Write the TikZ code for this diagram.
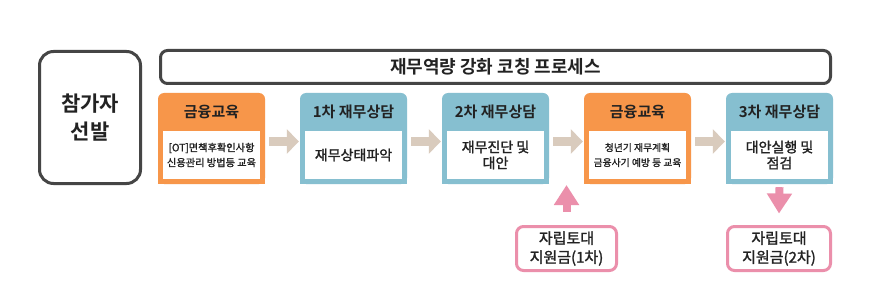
\documentclass[tikz,border=0pt]{standalone}
\usepackage{fontspec}
\setmainfont{Noto Sans CJK KR}[BoldFont={Noto Sans CJK KR Bold}]
\newfontfamily\medfont{Noto Sans CJK KR}[BoldFont={Noto Sans CJK KR},BoldFeatures={FakeBold=1.6}]
\usetikzlibrary{arrows.meta}
\definecolor{orng}{HTML}{F7964A}
\definecolor{blu}{HTML}{86BFD0}
\definecolor{tanc}{HTML}{D9CBBD}
\definecolor{pnk}{HTML}{EB8FAB}
\definecolor{dark}{HTML}{454545}
\definecolor{txt}{HTML}{222222}
\newcommand\procbox[6]{%
  \node[outerbox, fill=#3] (#1) at (#2,138.5) {};
  \fill[#3] (#1.west) rectangle (#1.south east);
  \node[header] (#1h) at (#2,112) {#4};
  \node[whitebox, font=#6] (#1b) at (#2,155) {#5};
}
\begin{document}
\begin{tikzpicture}[x=1pt,y=-1pt,
  outerbox/.style={rounded corners=6pt, minimum width=107pt, minimum height=91pt, inner sep=0pt},
  whitebox/.style={fill=white, minimum width=97pt, minimum height=48pt, align=center, inner sep=0pt, text=txt},
  header/.style={font=\bfseries\fontsize{15}{18}\selectfont, text=txt, inner sep=0pt},
  tanarrow/.style={draw=tanc, line width=9pt, -{Triangle[width=24pt,length=12pt]}},
  pinkarrow/.style={draw=pnk, line width=8pt, -{Triangle[width=24pt,length=20pt]}},
  pinkbox/.style={draw=pnk, line width=3pt, rounded corners=7pt, minimum height=44pt, align=center, inner sep=0pt, text=txt, font=\medfont\bfseries\fontsize{15}{19}\selectfont},
  darkbox/.style={draw=dark, line width=3pt, align=center, inner sep=0pt, text=txt}
]
\useasboundingbox (0,0) rectangle (882,299);
\fill[white] (0,0) rectangle (882,299);

\node[darkbox, rounded corners=14pt, minimum width=101pt, minimum height=132pt,
      font=\bfseries\fontsize{21}{28}\selectfont] (sel) at (90,117.5) {참가자\\선발};
\node[darkbox, rounded corners=7pt, minimum width=670pt, minimum height=33pt,
      font=\bfseries\fontsize{18}{22}\selectfont] (title) at (495.5,67) {재무역량 강화 코칭 프로세스};

\procbox{b1}{211.5}{orng}{금융교육}{[OT]면책후확인사항\\신용관리 방법등 교육}{\medfont\bfseries\fontsize{10.2}{15}\selectfont}
\procbox{b2}{353.5}{blu}{1차 재무상담}{재무상태파악}{\medfont\bfseries\fontsize{14}{16}\selectfont}
\procbox{b3}{495.5}{blu}{2차 재무상담}{재무진단 및\\대안}{\medfont\bfseries\fontsize{14}{16}\selectfont}
\procbox{b4}{637.5}{orng}{금융교육}{청년기 재무계획\\금융사기 예방 등 교육}{\medfont\bfseries\fontsize{9.8}{15}\selectfont}
\procbox{b5}{779.5}{blu}{3차 재무상담}{대안실행 및\\점검}{\medfont\bfseries\fontsize{14}{16}\selectfont}

\draw[tanarrow] ([xshift=4pt,yshift=-3pt]b1.east) -- ([xshift=-1pt,yshift=-3pt]b2.west);
\draw[tanarrow] ([xshift=4pt,yshift=-3pt]b2.east) -- ([xshift=-1pt,yshift=-3pt]b3.west);
\draw[tanarrow] ([xshift=4pt,yshift=-3pt]b3.east) -- ([xshift=-1pt,yshift=-3pt]b4.west);
\draw[tanarrow] ([xshift=4pt,yshift=-3pt]b4.east) -- ([xshift=-1pt,yshift=-3pt]b5.west);

\node[pinkbox, minimum width=100pt] (p1) at (566.5,248.5) {자립토대\\지원금(1차)};
\node[pinkbox, minimum width=103pt] (p2) at (779,248.5) {자립토대\\지원금(2차)};

\coordinate (uptip) at (566.5,185);
\draw[pinkarrow] ([yshift=13.5pt]p1.north) -- (uptip);
\draw[pinkarrow] ([yshift=-3pt]b5.south) -- ([yshift=11.5pt]p2.north);
\end{tikzpicture}
\end{document}
